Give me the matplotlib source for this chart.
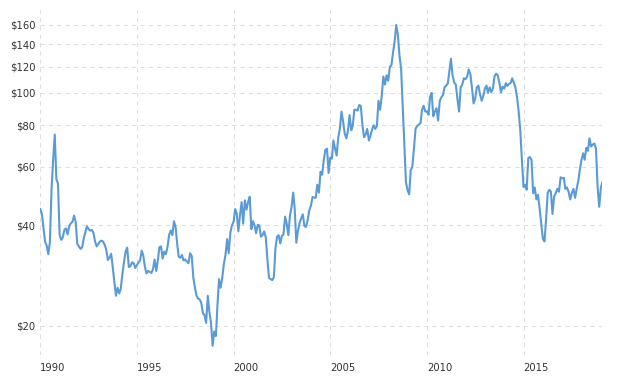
import matplotlib
matplotlib.use("Agg")
import matplotlib.pyplot as plt
import matplotlib.ticker as mticker
from matplotlib.transforms import ScaledTranslation
import pandas as pd

LINE = "#5b9bd5"
GRID = "#dedede"
TEXT = "#333333"

# monthly values, first month is Jan 1990
START = "1990-01-01"

PRICE_1990S = [
    44.8, 43.2, 39.6, 35.8, 34.8, 32.8, 35.6, 51.0, 63.0, 75.0, 55.0, 53.5,   # 1990
    37.5, 36.2, 36.8, 38.8, 39.2, 37.6, 39.8, 40.6, 41.0, 42.8, 41.0, 35.2,   # 1991
    34.6, 34.0, 34.4, 36.5, 38.2, 39.8, 39.0, 38.6, 38.8, 38.0, 35.8, 34.6,   # 1992
    35.2, 35.8, 36.0, 35.8, 35.0, 33.8, 31.5, 32.0, 32.9, 30.0, 27.0, 24.6,   # 1993
    26.0, 25.0, 25.8, 28.5, 31.0, 33.4, 34.3, 30.0, 30.2, 31.0, 30.8, 29.8,   # 1994
    30.4, 31.0, 31.4, 33.6, 32.5, 30.0, 28.7, 29.2, 29.0, 28.8, 29.6, 31.6,   # 1995
    29.2, 31.5, 34.4, 34.6, 31.8, 33.4, 32.8, 34.5, 37.5, 38.6, 37.4, 41.2,   # 1996
    39.5, 35.0, 32.2, 32.0, 32.6, 31.4, 31.6, 31.2, 30.8, 33.0, 32.4, 28.0,   # 1997
    26.0, 24.6, 24.1, 24.0, 23.4, 21.8, 21.5, 20.4, 24.6, 22.0, 20.4, 17.4,   # 1998
    19.2, 18.6, 22.8, 27.6, 26.0, 27.8, 30.6, 32.6, 36.4, 33.0, 38.0, 40.0,   # 1999
]

PRICE_2000S = [
    41.0, 44.8, 43.5, 38.4, 43.0, 47.0, 40.5, 47.6, 44.6, 47.0, 48.8, 39.0,   # 2000
    41.2, 40.0, 37.9, 40.2, 40.0, 37.0, 37.4, 38.4, 36.8, 31.6, 27.8, 27.6,   # 2001
    27.4, 28.0, 34.0, 37.0, 37.4, 35.3, 37.2, 37.6, 42.5, 40.5, 37.4, 42.8,   # 2002
    45.5, 50.2, 45.0, 35.5, 38.5, 40.6, 42.0, 43.2, 39.8, 39.6, 41.5, 44.4,   # 2003
    45.8, 48.7, 48.5, 48.4, 53.0, 50.2, 58.0, 56.8, 63.0, 67.5, 68.0, 57.5,   # 2004
    64.0, 63.5, 72.0, 68.0, 64.9, 73.5, 78.0, 87.9, 82.0, 75.6, 73.0, 77.0,   # 2005
    85.8, 77.3, 79.5, 89.0, 89.0, 88.5, 92.0, 91.5, 80.0, 73.7, 75.0, 78.0,   # 2006
    72.0, 74.5, 77.5, 80.0, 78.0, 79.5, 94.7, 89.0, 98.0, 112.0, 106.0, 113.0,  # 2007
    108.8, 119.9, 121.0, 132.0, 142.6, 160.0, 150.0, 129.6, 118.0, 92.0, 70.0, 54.0,  # 2008
    51.0, 49.6, 58.6, 60.0, 68.0, 78.1, 79.5, 80.4, 81.0, 89.0, 91.5, 88.0,   # 2009
]

PRICE_2010S = [
    88.0, 86.0, 97.3, 100.0, 85.1, 88.0, 89.9, 82.6, 94.7, 97.0, 98.5, 104.0,  # 2010
    105.2, 107.0, 116.0, 126.7, 113.0, 107.5, 106.0, 96.0, 87.9, 104.0, 106.0, 110.7,  # 2011
    110.0, 112.0, 117.6, 114.0, 104.0, 93.0, 96.0, 104.0, 105.2, 99.0, 94.7, 98.0,  # 2012
    103.0, 105.2, 100.0, 104.0, 100.6, 103.0, 112.0, 114.3, 113.0, 107.5, 100.4, 104.5,  # 2013
    103.0, 107.0, 105.0, 106.5, 107.0, 110.7, 107.5, 103.7, 97.0, 88.0, 77.0, 63.0,  # 2014
    52.2, 53.0, 51.2, 63.7, 64.2, 63.0, 50.0, 52.0, 47.9, 49.5, 45.0, 40.5,   # 2015
    36.5, 35.8, 41.5, 50.0, 51.2, 50.5, 43.3, 48.9, 50.0, 51.5, 50.5, 55.8,   # 2016
    55.4, 55.6, 51.5, 52.0, 50.5, 47.9, 50.0, 51.5, 48.4, 51.5, 54.5, 59.0,   # 2017
    63.0, 65.9, 63.0, 68.4, 67.0, 73.1, 69.0, 70.0, 70.5, 68.0, 52.0, 45.5,   # 2018
    52.0, 54.0,                                                               # 2019
]

Y_TICKS = [20, 40, 60, 80, 100, 120, 140, 160]
X_TICK_YEARS = [1990, 1995, 2000, 2005, 2010, 2015]

prices = PRICE_1990S + PRICE_2000S + PRICE_2010S
dates = pd.date_range(START, periods=len(prices), freq="MS")

fig = plt.figure(figsize=(6.18, 3.77), dpi=100)
ax = fig.add_axes([0.0652, 0.0584, 0.9097, 0.9151])

ax.plot(dates, prices, color=LINE, linewidth=1.5, solid_joinstyle="round")

ax.set_yscale("log")
ax.set_ylim(16.33, 177.5)
ax.set_xlim(dates[0], dates[-1])

ax.set_yticks(Y_TICKS)
ax.set_yticklabels([f"${v}" for v in Y_TICKS])
ax.yaxis.set_minor_locator(mticker.NullLocator())
ax.yaxis.set_minor_formatter(mticker.NullFormatter())

ax.set_xticks([pd.Timestamp(f"{y}-01-01") for y in X_TICK_YEARS])
ax.set_xticklabels([str(y) for y in X_TICK_YEARS], ha="left")
shift = ScaledTranslation(3 / 100, 0, fig.dpi_scale_trans)
for lab in ax.get_xticklabels():
    lab.set_transform(lab.get_transform() + shift)

for s in ax.spines.values():
    s.set_visible(False)

ax.tick_params(axis="both", length=0, labelsize=7.2, labelcolor=TEXT)
ax.tick_params(axis="x", pad=5.8)
ax.tick_params(axis="y", pad=3.6)

ax.grid(True, color=GRID, linewidth=0.75, linestyle=(0, (4, 4)))
ax.set_axisbelow(True)

fig.savefig("out.png", dpi=100)
